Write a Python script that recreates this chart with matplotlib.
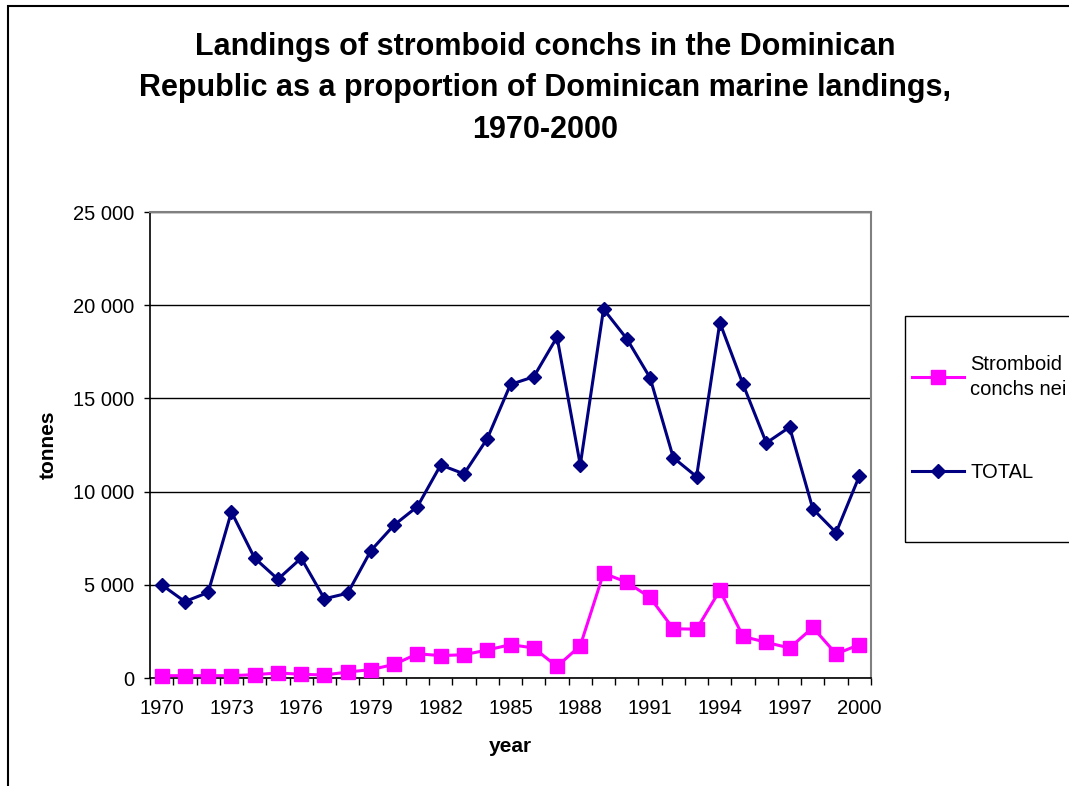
import matplotlib.pyplot as plt
from matplotlib.patches import Rectangle

plt.rcParams['font.family'] = ['Liberation Sans', 'DejaVu Sans']

years = list(range(1970, 2001))
total = [5000, 4100, 4590, 8910, 6430, 5300, 6430, 4250, 4550, 6840,
         8210, 9200, 11430, 10950, 12840, 15750, 16160, 18290, 11430, 19790,
         18200, 16110, 11820, 10800, 19070, 15750, 12610, 13460, 9070, 7800,
         10840]
stromboid = [125, 125, 125, 125, 180, 270, 200, 160, 320, 450,
             730, 1300, 1200, 1250, 1500, 1790, 1610, 620, 1730, 5620,
             5140, 4320, 2640, 2620, 4700, 2230, 1910, 1610, 2710, 1290,
             1790]
y_ticks = [0, 5000, 10000, 15000, 20000, 25000]
y_labels = ['0', '5 000', '10 000', '15 000', '20 000', '25 000']
title = ('Landings of stromboid conchs in the Dominican\n'
         'Republic as a proportion of Dominican marine landings,\n'
         '1970-2000')

fig = plt.figure(figsize=(10.69, 7.86), dpi=100)
W, H = 1069, 786

# outer chart frame (runs off the right and bottom edges)
fig.patches.append(Rectangle((8 / W, -0.1), 1.2, (H - 6) / H + 0.1, transform=fig.transFigure,
                             fill=False, edgecolor='black', linewidth=1.5))
# legend box, also cut by the right edge
fig.patches.append(Rectangle((905 / W, 1 - 542 / H), 0.3, (542 - 316) / H, transform=fig.transFigure,
                             fill=False, edgecolor='black', linewidth=1))

ax = fig.add_axes([150 / W, (H - 678) / H, (871 - 150) / W, (678 - 212) / H])
x = list(range(len(years)))

ax.plot(x, stromboid, color='#FF00FF', linewidth=2.2, marker='s', markersize=10,
        markeredgecolor='#FF00FF', label='Stromboid\nconchs nei', clip_on=False, zorder=4)
ax.plot(x, total, color='#000080', linewidth=2.2, marker='D', markersize=7.5,
        markeredgecolor='#000080', label='TOTAL', clip_on=False, zorder=5)

ax.set_xlim(-0.5, len(years) - 0.5)
ax.set_ylim(0, 25000)
ax.set_yticks(y_ticks)
ax.set_yticklabels(y_labels)
ax.set_xticks(x[::3])
ax.set_xticklabels([str(y) for y in years[::3]])
ax.set_xticks([i - 0.5 for i in range(len(years) + 1)], minor=True)
ax.tick_params(axis='x', which='major', length=0, pad=15, labelsize=14.5)
ax.tick_params(axis='x', which='minor', length=5, width=1, color='black')
ax.tick_params(axis='y', length=4.5, width=1, labelsize=14.5, pad=7)
ax.yaxis.grid(True, color='black', linewidth=1)
ax.set_axisbelow(True)

for side in ('top', 'right'):
    ax.spines[side].set_color('#808080')
    ax.spines[side].set_linewidth(1.5)
for side in ('left', 'bottom'):
    ax.spines[side].set_color('black')
    ax.spines[side].set_linewidth(1.2)

fig.text(545 / W, 1 - 88 / H, title, ha='center', va='center', fontsize=22,
         fontweight='bold', linespacing=1.5)
fig.text(48 / W, 1 - 445 / H, 'tonnes', rotation=90, ha='center', va='center',
         fontsize=15, fontweight='bold')
fig.text(510 / W, 1 - 746 / H, 'year', ha='center', va='center', fontsize=15, fontweight='bold')

handles, labels = ax.get_legend_handles_labels()
leg = fig.legend(handles, labels, loc='upper left', bbox_to_anchor=(912 / W, 1 - 355 / H),
                 fontsize=14.5, frameon=False, borderpad=0, labelspacing=3.2,
                 handlelength=2.6, handletextpad=0.3, borderaxespad=0)
leg.get_texts()[0].set_linespacing(1.4)
leg.get_texts()[0].set_multialignment('left')

fig.savefig('out.png', dpi=100)
